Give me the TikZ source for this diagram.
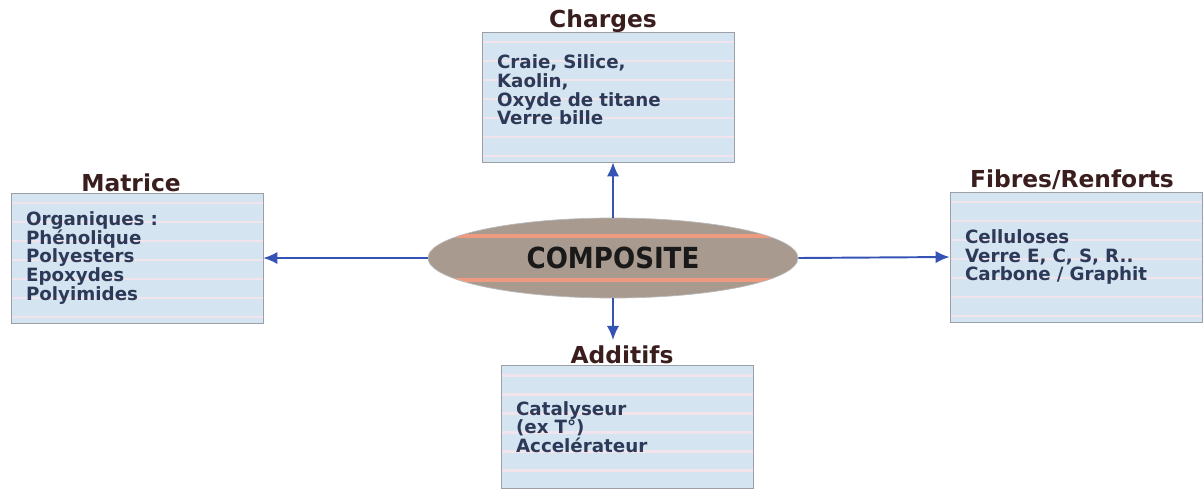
\documentclass[tikz,border=0pt]{standalone}
\usepackage{fontspec}
\setmainfont{DejaVu Sans}
\newfontfamily\condfont{DejaVu Sans Condensed}
\usetikzlibrary{shapes.geometric,arrows.meta}
\definecolor{boxblue}{HTML}{D4E4F1}
\definecolor{boxline}{HTML}{9C9FA6}
\definecolor{stripe}{HTML}{F1E4EC}
\definecolor{arrowblue}{HTML}{3553B5}
\definecolor{titlebrown}{HTML}{3A1E1E}
\definecolor{textnavy}{HTML}{2C3A58}
\definecolor{composfill}{HTML}{A89A8F}
\definecolor{salmon}{HTML}{EE9A80}
\tikzset{
  listbox/.style={draw=boxline, fill=boxblue, rectangle, align=left,
    text width=4.44cm, inner xsep=0.3cm, minimum width=5.04cm,
    minimum height=2.6cm, text=textnavy,
    font=\fontsize{10.4}{10.6}\selectfont\bfseries,
    path picture={\foreach \k in {1,...,7}
      \draw[stripe, line width=1.4pt]
        ([yshift={-0.2cm-(\k-1)*0.38cm}]path picture bounding box.north west) --
        ([yshift={-0.2cm-(\k-1)*0.38cm}]path picture bounding box.north east);}},
  heading/.style={anchor=base, text=titlebrown, inner sep=0pt,
    font=\fontsize{13.3}{15}\selectfont\bfseries},
  hub/.style={ellipse, fill=composfill, draw=gray!55, minimum width=7.4cm,
    minimum height=1.6cm, text=black!90,
    font=\condfont\fontsize{16.5}{18}\selectfont\bfseries,
    path picture={
      \draw[salmon, line width=2.3pt]
        ([yshift=0.44cm]path picture bounding box.west) --
        ([yshift=0.44cm]path picture bounding box.east);
      \draw[salmon, line width=2.3pt]
        ([yshift=-0.44cm]path picture bounding box.west) --
        ([yshift=-0.44cm]path picture bounding box.east);}},
  link/.style={arrowblue, line width=1.1pt, -{Latex[length=8pt,width=7pt]}}
}
\begin{document}
\begin{tikzpicture}[x=0.02cm,y=0.02cm]
\useasboundingbox (0,0) rectangle (1204,-494);
\node[hub] (composite) at (613,-258) {COMPOSITE};
\node[listbox] (charges) at (608,-97) {Craie, Silice,\\Kaolin,\\Oxyde de titane\\Verre bille\\[-2.5pt]\mbox{}};
\node[listbox] (matrice) at (137,-258) {Organiques :\\Phénolique\\Polyesters\\Epoxydes\\Polyimides};
\node[listbox] (fibres) at (1076,-257) {Celluloses\\Verre E, C, S, R..\\Carbone / Graphit};
\node[listbox, minimum height=2.46cm] (additifs) at (627,-427) {Catalyseur\\(ex T°)\\Accelérateur};
\node[heading] (chargeshead) at ([xshift=-0.1cm,yshift=0.08cm]charges.north) {Charges};
\node[heading] (matricehead) at ([xshift=-0.12cm,yshift=0.03cm]matrice.north) {Matrice};
\node[heading] (fibreshead) at ([xshift=-0.08cm,yshift=0.08cm]fibres.north) {Fibres/Renforts};
\node[heading] (additifshead) at ([xshift=-0.1cm,yshift=0.04cm]additifs.north) {Additifs};
\coordinate (additifstip) at (613,-340);
\draw[link] (composite.north) -- (composite.north |- charges.south);
\draw[link] (composite.west) -- (matrice.east);
\draw[link] (composite.east) -- (fibres.west);
\draw[link] (composite.south) -- (additifstip);
\end{tikzpicture}
\end{document}
